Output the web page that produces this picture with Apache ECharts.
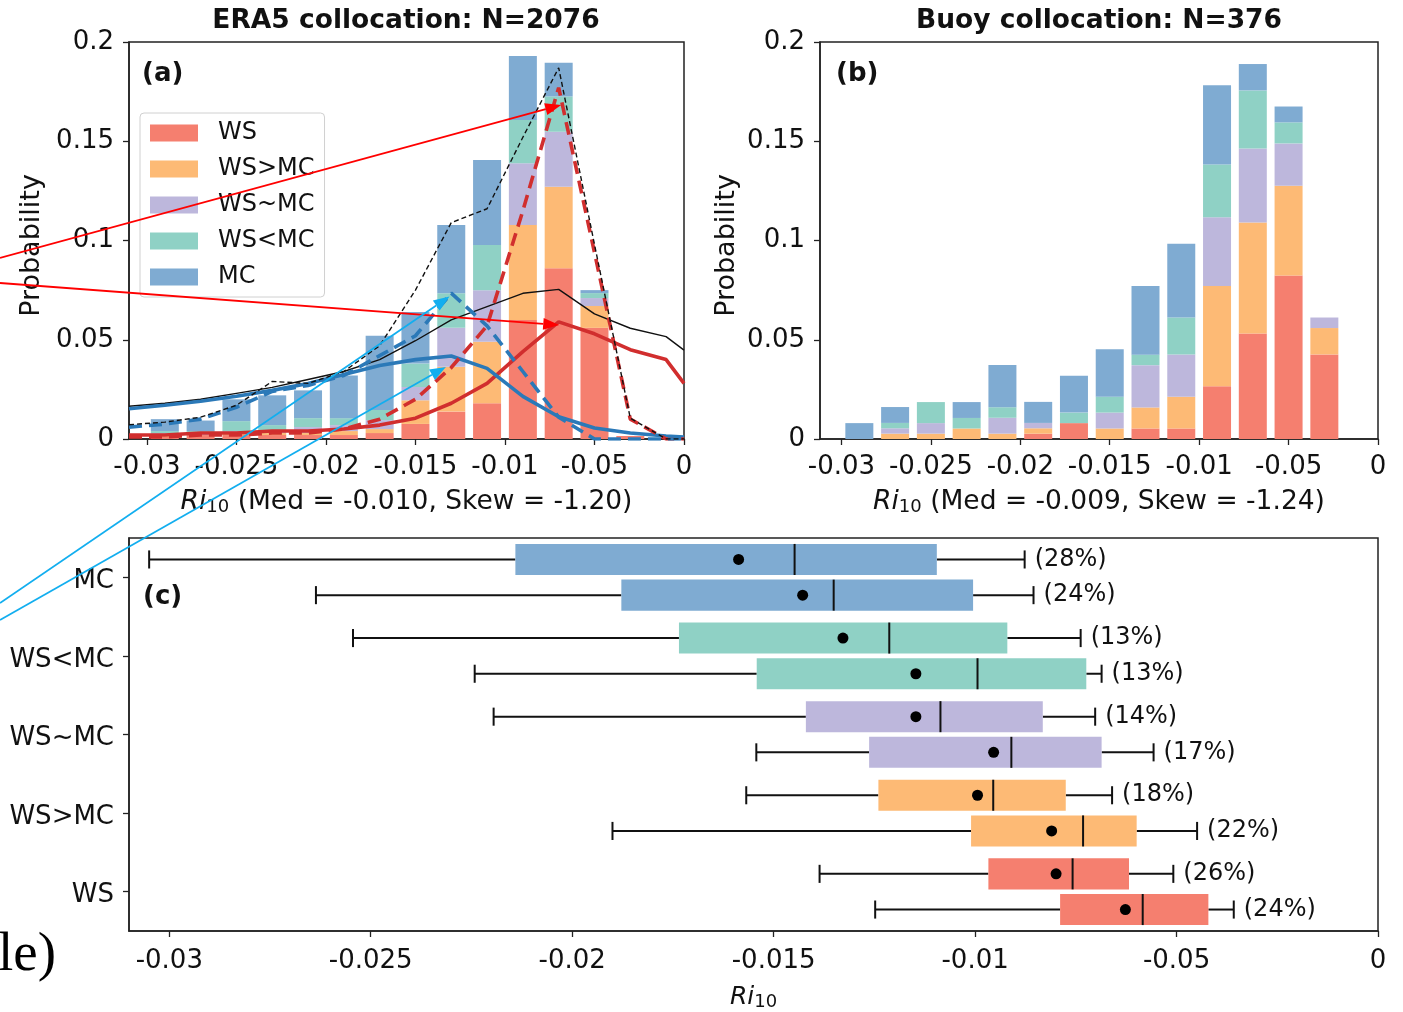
<!DOCTYPE html>
<html>
<head>
<meta charset="utf-8">
<script src="https://cdn.jsdelivr.net/npm/echarts@6/dist/echarts.min.js"></script>
<style>
html, body { margin: 0; padding: 0; background: #fff; }
#chart { width: 1403px; height: 1012px; }
</style>
</head>
<body>
<div id="chart"></div>
<script>
// histogram bin centres (Ri10)
const binCenters = [-0.029, -0.027, -0.025, -0.023, -0.021, -0.019, -0.017, -0.015, -0.013, -0.011, -0.009, -0.007, -0.005, -0.003]
const groups = ['WS', 'WS>MC', 'WS~MC', 'WS<MC', 'MC']
const groupColors = ['#F57F6F', '#FDBA75', '#BDB7DC', '#8FD1C5', '#7FABD2']

// (a) ERA5 collocation, stacked probability per group
const eraWS    = [0.001, 0.002, 0.002, 0.002, 0.002, 0.002, 0.003, 0.0076, 0.0138, 0.018, 0.060, 0.086, 0.056, 0.0015]
const eraWSgt  = [0.001, 0.000, 0.001, 0.001, 0.001, 0.002, 0.002, 0.0119, 0.0226, 0.031, 0.0478, 0.0411, 0.011, 0]
const eraWSsim = [0.001, 0.001, 0.001, 0.001, 0.003, 0.003, 0.0045, 0.0067, 0.0196, 0.026, 0.0311, 0.0277, 0.004, 0]
const eraWSlt  = [0.001, 0.001, 0.005, 0.003, 0.0045, 0.0035, 0.0051, 0.0118, 0.0174, 0.0227, 0.0218, 0.0177, 0.0025, 0]
const eraMC    = [0.006, 0.0053, 0.011, 0.015, 0.014, 0.0215, 0.0374, 0.026, 0.0344, 0.0429, 0.0323, 0.0171, 0.0015, 0]

// (b) buoy collocation
const buoyWS    = [0, 0, 0, 0, 0, 0.0027, 0.008, 0, 0.0053, 0.0053, 0.0266, 0.0532, 0.0824, 0.0426]
const buoyWSgt  = [0, 0.0027, 0.0027, 0.0053, 0.0027, 0.0027, 0, 0.0053, 0.0106, 0.016, 0.0505, 0.0559, 0.0452, 0.0133]
const buoyWSsim = [0, 0.0027, 0.0053, 0, 0.008, 0.0027, 0, 0.008, 0.0213, 0.0213, 0.0346, 0.0372, 0.0213, 0.0053]
const buoyWSlt  = [0, 0.0027, 0.0106, 0.0053, 0.0053, 0, 0.0053, 0.008, 0.0053, 0.0186, 0.0266, 0.0293, 0.0106, 0]
const buoyMC    = [0.008, 0.008, 0, 0.008, 0.0213, 0.0106, 0.0186, 0.0239, 0.0346, 0.0372, 0.0399, 0.0133, 0.008, 0]

// curves over panel (a)
const curveX      = [-0.031, -0.029, -0.027, -0.025, -0.023, -0.021, -0.019, -0.017, -0.015, -0.013, -0.011, -0.009, -0.007, -0.005, -0.003, -0.001, 0]
const allSolid    = [0.0165, 0.018, 0.020, 0.023, 0.026, 0.030, 0.034, 0.040, 0.0495, 0.060, 0.0667, 0.0734, 0.0754, 0.063, 0.0558, 0.0516, 0.0448]
const wsSolid     = [0.002, 0.002, 0.003, 0.003, 0.004, 0.004, 0.005, 0.007, 0.0105, 0.018, 0.028, 0.044, 0.059, 0.053, 0.045, 0.040, 0.028]
const mcSolid     = [0.0152, 0.017, 0.019, 0.0215, 0.0245, 0.028, 0.0325, 0.037, 0.040, 0.0418, 0.0356, 0.0215, 0.0112, 0.0055, 0.003, 0.0015, 0.001]
const allDashed   = [0.0072, 0.0085, 0.011, 0.017, 0.029, 0.028, 0.034, 0.047, 0.075, 0.109, 0.116, 0.152, 0.187, 0.098, 0.0105, 0, 0]
const wsDashed    = [0.001, 0.001, 0.002, 0.002, 0.003, 0.003, 0.005, 0.010, 0.020, 0.036, 0.057, 0.115, 0.177, 0.094, 0.010, 0, 0]
const mcDashed    = [0.006, 0.0075, 0.010, 0.016, 0.024, 0.027, 0.032, 0.042, 0.052, 0.0735, 0.057, 0.034, 0.011, 0, 0, 0, 0]

// (c) box statistics [whisker low, q1, median, q3, whisker high], order WS .. MC
const era5Box = [
    [-0.01386, -0.00967, -0.00758, -0.00618, -0.00508],
    [-0.01568, -0.0124, -0.00955, -0.00775, -0.0066],
    [-0.02195, -0.0142, -0.01086, -0.00832, -0.00702],
    [-0.02544, -0.01735, -0.01213, -0.0092, -0.00738],
    [-0.0305, -0.02141, -0.01448, -0.01095, -0.00877]
]
const era5Mean = [-0.00799, -0.00994, -0.01147, -0.01328, -0.01587]
const era5Pct = [26, 18, 14, 13, 28]
const buoyBox = [
    [-0.01248, -0.00789, -0.00584, -0.00421, -0.00358],
    [-0.019, -0.0101, -0.00732, -0.00599, -0.00449],
    [-0.01543, -0.01263, -0.0091, -0.00686, -0.00557],
    [-0.02242, -0.01542, -0.00994, -0.00724, -0.00686],
    [-0.02636, -0.01878, -0.01351, -0.01005, -0.00855]
]
const buoyMean = [-0.00627, -0.0081, -0.00954, -0.01147, -0.01428]
const buoyPct = [24, 22, 17, 13, 24]

// x ticks as printed in the figure
const tickValues = [-0.03, -0.025, -0.02, -0.015, -0.01, -0.005, 0]
const tickLabels = ['-0.03', '-0.025', '-0.02', '-0.015', '-0.01', '-0.05', '0']

// annotation arrows: tips in panel (a) data coords, tails off the plot (px)
const arrowTips = [[-0.00686, 0.1683], [-0.00697, 0.0574], [-0.0131, 0.0718], [-0.0133, 0.0363]]
const arrowTails = [[0, 258], [0, 283], [0, 603], [0, 620]]
const arrowColors = ['#FF0000', '#FF0000', '#12AEEF', '#12AEEF']

const FONT = 'DejaVu Sans'
const INK = '#111'
const BAR_W = 28

const chartInstance = echarts.init(document.getElementById('chart'))

function fmtTick(v) {
    const i = tickValues.findIndex(t => Math.abs(t - v) < 1e-9)
    return i >= 0 ? tickLabels[i] : ''
}

const riName = (rest, size) => ({
    name: '{i|Ri}{s|10}' + rest,
    nameLocation: 'middle',
    nameTextStyle: {
        fontSize: size, fontFamily: FONT, color: INK,
        rich: {
            i: { fontSize: size, fontFamily: FONT, fontStyle: 'italic', color: INK },
            s: { fontSize: 18, fontFamily: FONT, color: INK, verticalAlign: 'bottom', padding: [10, 0, 0, 0] }
        }
    }
})

function valueX(gridIndex, min, extra) {
    return Object.assign({
        gridIndex,
        type: 'value',
        min, max: 0,
        splitLine: { show: false },
        axisLine: { show: true, onZero: false, lineStyle: { color: '#222', width: 1.5 } },
        axisTick: { show: true, inside: false, length: 6, customValues: tickValues, lineStyle: { color: '#222', width: 1.3 } },
        axisLabel: { customValues: tickValues, formatter: fmtTick, fontSize: 26, fontFamily: FONT, color: INK, margin: 15 }
    }, extra)
}

function probY(gridIndex, nameGap) {
    return {
        gridIndex,
        type: 'value',
        position: 'left',
        min: 0, max: 0.2, interval: 0.05,
        name: 'Probability', nameLocation: 'middle', nameGap,
        nameTextStyle: { fontSize: 27, fontFamily: FONT, color: INK, padding: [0, 10, 0, 0] },
        splitLine: { show: false },
        axisLine: { show: true, onZero: false, lineStyle: { color: '#222', width: 1.5 } },
        axisTick: { show: true, inside: false, length: 6, lineStyle: { color: '#222', width: 1.3 } },
        axisLabel: { fontSize: 26, fontFamily: FONT, color: INK, margin: 15 }
    }
}

// one custom series per group; each draws its own segment on top of the lower groups
function stackRenderer(g) {
    return function (params, api) {
        const x = api.value(0)
        let base = 0
        for (let k = 0; k < g; k++) base += api.value(1 + k)
        const top = base + api.value(1 + g)
        const p0 = api.coord([x, base])
        const p1 = api.coord([x, top])
        return {
            type: 'rect',
            shape: { x: p0[0] - BAR_W / 2, y: p1[1], width: BAR_W, height: p0[1] - p1[1] },
            style: { fill: groupColors[g] }
        }
    }
}

function stackedBars(gridIdx, cols) {
    const rows = binCenters.map((x, i) => [x, ...cols.map(c => c[i])])
    return groups.map((name, g) => ({
        name, type: 'custom',
        xAxisIndex: gridIdx, yAxisIndex: gridIdx,
        z: 2,
        itemStyle: { color: groupColors[g] },
        renderItem: stackRenderer(g),
        encode: { x: 0, y: 1 + g },
        data: rows
    }))
}

function curve(name, values, color, width, dash, z) {
    return {
        name, type: 'line', xAxisIndex: 0, yAxisIndex: 0,
        showSymbol: false, z,
        lineStyle: { color, width, type: dash || 'solid' },
        data: curveX.map((x, i) => [x, values[i]])
    }
}

function boxRenderer(side) {
    return function (params, api) {
        const cat = api.value(0)
        const band = api.size([0, 1])[1]
        const yc = api.coord([0, cat])[1] + side * 0.227 * band
        const h = 0.395 * band
        const capH = 0.23 * band
        const px = i => api.coord([api.value(i), cat])[0]
        const lo = px(1), q1 = px(2), md = px(3), q3 = px(4), hi = px(5), mn = px(6)
        const ln = (x1, y1, x2, y2) => ({ type: 'line', shape: { x1, y1, x2, y2 }, style: { stroke: '#111', lineWidth: 2 } })
        return {
            type: 'group',
            children: [
                ln(lo, yc, q1, yc), ln(q3, yc, hi, yc),
                ln(lo, yc - capH / 2, lo, yc + capH / 2), ln(hi, yc - capH / 2, hi, yc + capH / 2),
                { type: 'rect', shape: { x: q1, y: yc - h / 2, width: q3 - q1, height: h }, style: { fill: groupColors[cat] } },
                ln(md, yc - h / 2, md, yc + h / 2),
                { type: 'circle', shape: { cx: mn, cy: yc, r: 5.5 }, style: { fill: '#000' } },
                { type: 'text', x: hi + 10, y: yc, style: { text: '(' + api.value(7) + '%)', font: '24px "DejaVu Sans"', fill: INK, verticalAlign: 'middle', align: 'left' } }
            ]
        }
    }
}

function boxSeries(name, box, mean, pct, side) {
    return {
        name, type: 'custom', xAxisIndex: 2, yAxisIndex: 2,
        renderItem: boxRenderer(side),
        encode: { x: [1, 2, 3, 4, 5, 6], y: 0 },
        data: groups.map((g, i) => [i, ...box[i], mean[i], pct[i]])
    }
}

const gridFrame = { show: true, borderColor: '#222', borderWidth: 1.5, backgroundColor: 'transparent' }

const option = {
    animation: false,
    backgroundColor: '#fff',
    textStyle: { fontFamily: FONT },
    grid: [
        Object.assign({ left: 129, top: 42, width: 555, height: 397 }, gridFrame),
        Object.assign({ left: 820, top: 42, width: 558, height: 397 }, gridFrame),
        Object.assign({ left: 129, top: 538, width: 1249, height: 395 }, gridFrame)
    ],
    xAxis: [
        valueX(0, -0.031, Object.assign(riName(' (Med = -0.010, Skew = -1.20)', 26.5), { nameGap: 49 })),
        valueX(1, -0.0312, Object.assign(riName(' (Med = -0.009, Skew = -1.24)', 26.5), { nameGap: 49 })),
        valueX(2, -0.031, Object.assign(riName('', 25), { nameGap: 52, axisLabel: { customValues: tickValues, formatter: fmtTick, fontSize: 26, fontFamily: FONT, color: INK, margin: 17 } }))
    ],
    yAxis: [
        probY(0, 84),
        probY(1, 80),
        {
            gridIndex: 2,
            type: 'category',
            position: 'left',
            data: groups,
            splitLine: { show: false },
            axisLine: { show: true, onZero: false, lineStyle: { color: '#222', width: 1.5 } },
            axisTick: { show: true, inside: false, length: 6, alignWithLabel: true, lineStyle: { color: '#222', width: 1.3 } },
            axisLabel: { fontSize: 26, fontFamily: FONT, color: INK, margin: 15, lineHeight: 8, verticalAlign: 'top' }
        }
    ],
    legend: {
        data: groups,
        orient: 'vertical',
        left: 140, top: 113,
        itemWidth: 48, itemHeight: 17, itemGap: 12,
        icon: 'rect',
        padding: [8, 10, 8, 10],
        backgroundColor: 'rgba(255,255,255,0.8)',
        borderColor: '#d0d0d0', borderWidth: 1, borderRadius: 4,
        selectedMode: false,
        textStyle: { fontSize: 24, lineHeight: 24, fontFamily: FONT, color: INK, padding: [0, 0, 0, 15] }
    },
    series: [
        ...stackedBars(0, [eraWS, eraWSgt, eraWSsim, eraWSlt, eraMC]),
        ...stackedBars(1, [buoyWS, buoyWSgt, buoyWSsim, buoyWSlt, buoyMC]),
        curve('all solid', allSolid, '#111', 1.4, null, 4),
        curve('WS solid', wsSolid, '#D12E2E', 3.6, null, 4),
        curve('MC solid', mcSolid, '#2B79B8', 3.6, null, 4),
        curve('WS dashed', wsDashed, '#D12E2E', 3.6, [13, 7], 5),
        curve('MC dashed', mcDashed, '#2B79B8', 3.6, [13, 7], 5),
        curve('all dashed', allDashed, '#111', 1.4, [5, 3], 6),
        boxSeries('ERA5', era5Box, era5Mean, era5Pct, -1),
        boxSeries('Buoy', buoyBox, buoyMean, buoyPct, 1)
    ],
    graphic: [
        { id: 't1', type: 'text', x: 406, y: 21, style: { text: 'ERA5 collocation: N=2076', font: 'bold 26.5px "DejaVu Sans"', fill: INK, align: 'center', verticalAlign: 'middle' } },
        { id: 't2', type: 'text', x: 1099, y: 21, style: { text: 'Buoy collocation: N=376', font: 'bold 26.5px "DejaVu Sans"', fill: INK, align: 'center', verticalAlign: 'middle' } },
        { id: 'pa', type: 'text', x: 142, y: 74, style: { text: '(a)', font: 'bold 26px "DejaVu Sans"', fill: INK, verticalAlign: 'middle' } },
        { id: 'pb', type: 'text', x: 836, y: 74, style: { text: '(b)', font: 'bold 26px "DejaVu Sans"', fill: INK, verticalAlign: 'middle' } },
        { id: 'pc', type: 'text', x: 143, y: 597, style: { text: '(c)', font: 'bold 26px "DejaVu Sans"', fill: INK, verticalAlign: 'middle' } },
        { id: 'le', type: 'text', x: -2, y: 956, style: { text: 'le)', font: '55px "Liberation Serif"', fill: '#000', verticalAlign: 'middle' } }
    ]
}

chartInstance.setOption(option)

// arrows drawn over everything, tips located through the panel (a) scales
const arrowGraphics = []
arrowTips.forEach((tip, k) => {
    const t = chartInstance.convertToPixel({ gridIndex: 0 }, tip)
    const s = arrowTails[k]
    const dx = t[0] - s[0], dy = t[1] - s[1]
    const len = Math.sqrt(dx * dx + dy * dy)
    const ux = dx / len, uy = dy / len
    const L = 16, W = 6
    const bx = t[0] - ux * L, by = t[1] - uy * L
    arrowGraphics.push({
        id: 'al' + k, type: 'line', z: 100,
        shape: { x1: s[0], y1: s[1], x2: bx, y2: by },
        style: { stroke: arrowColors[k], lineWidth: 1.8 }
    })
    arrowGraphics.push({
        id: 'ah' + k, type: 'polygon', z: 100,
        shape: { points: [[t[0], t[1]], [bx - uy * W, by + ux * W], [bx + uy * W, by - ux * W]] },
        style: { fill: arrowColors[k] }
    })
})
chartInstance.setOption({ graphic: arrowGraphics })
</script>
</body>
</html>
